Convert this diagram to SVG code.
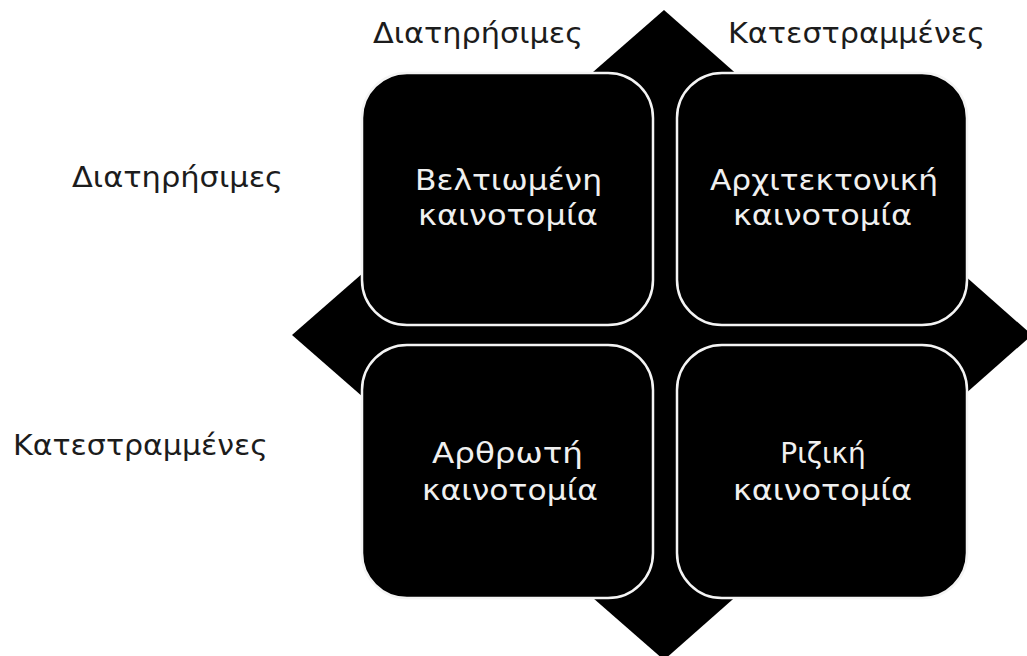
<svg xmlns="http://www.w3.org/2000/svg" width="1027" height="656" viewBox="0 0 1027 656">
  <style>
    .cell { fill: #000; stroke: #f4f4f4; stroke-width: 2.5; }
    .lbl { font-family: "DejaVu Sans", "Noto Sans", sans-serif; font-size: 28px; fill: #1c1c1c; }
    .in { font-family: "DejaVu Sans", "Noto Sans", sans-serif; font-size: 28px; fill: #f0f0f0; }
  </style>
  <rect width="1027" height="656" fill="#fff"/>

  <!-- backing diamond behind the 2x2 grid -->
  <polygon id="diamond" points="664,10 1032,335 664,660 292,335" fill="#000"/>

  <!-- axis labels -->
  <g id="axis-labels">
    <text class="lbl" x="373" y="43" textLength="210" lengthAdjust="spacingAndGlyphs">Διατηρήσιμες</text>
    <text class="lbl" x="728" y="43" textLength="257" lengthAdjust="spacingAndGlyphs">Κατεστραμμένες</text>
    <text class="lbl" x="72" y="187" textLength="211" lengthAdjust="spacingAndGlyphs">Διατηρήσιμες</text>
    <text class="lbl" x="13" y="455" textLength="255" lengthAdjust="spacingAndGlyphs">Κατεστραμμένες</text>
  </g>

  <g id="incremental">
    <rect class="cell" x="362" y="73" width="291" height="252" rx="45"/>
    <text class="in" x="415" y="190" textLength="187" lengthAdjust="spacingAndGlyphs">Βελτιωμένη</text>
    <text class="in" x="418" y="225" textLength="180" lengthAdjust="spacingAndGlyphs">καινοτομία</text>
  </g>

  <g id="architectural">
    <rect class="cell" x="677" y="73" width="290" height="252" rx="45"/>
    <text class="in" x="710" y="190" textLength="228" lengthAdjust="spacingAndGlyphs">Αρχιτεκτονική</text>
    <text class="in" x="733" y="225" textLength="179" lengthAdjust="spacingAndGlyphs">καινοτομία</text>
  </g>

  <g id="modular">
    <rect class="cell" x="362" y="345" width="291" height="253" rx="45"/>
    <text class="in" x="432" y="463" textLength="151" lengthAdjust="spacingAndGlyphs">Αρθρωτή</text>
    <text class="in" x="422" y="500" textLength="176" lengthAdjust="spacingAndGlyphs">καινοτομία</text>
  </g>

  <g id="radical">
    <rect class="cell" x="677" y="345" width="290" height="253" rx="45"/>
    <text class="in" x="823" y="463" text-anchor="middle">Ριζική</text>
    <text class="in" x="733" y="500" textLength="179" lengthAdjust="spacingAndGlyphs">καινοτομία</text>
  </g>
</svg>
